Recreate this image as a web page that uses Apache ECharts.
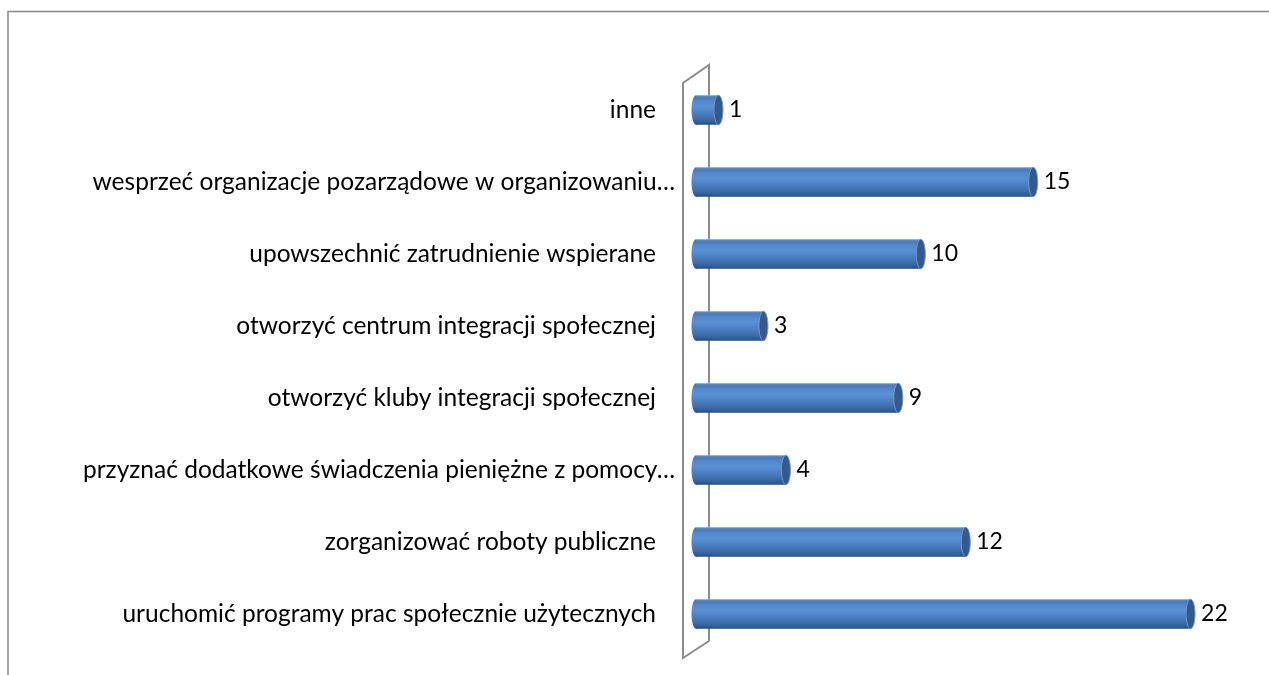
<!DOCTYPE html>
<html>
<head>
<meta charset="utf-8">
<title>chart</title>
<script src="https://cdn.jsdelivr.net/npm/echarts@6/dist/echarts.min.js"></script>
<style>
    html, body { margin: 0; padding: 0; background: #fff; }
    #main { width: 1269px; height: 675px; }
</style>
</head>
<body>
<div id="main"></div>
<script>
// categories from bottom to top (as in the picture)
var categories = [
    'uruchomić programy prac społecznie użytecznych',
    'zorganizować roboty publiczne',
    'przyznać dodatkowe świadczenia pieniężne z pomocy…',
    'otworzyć kluby integracji społecznej',
    'otworzyć centrum integracji społecznej',
    'upowszechnić zatrudnienie wspierane',
    'wesprzeć organizacje pozarządowe w organizowaniu…',
    'inne'
];
var values = [22, 12, 4, 9, 3, 10, 15, 1];

var FONT = 'Lato';
var FS = 24.5;
var GRID_LEFT = 696, GRID_TOP = 74, GRID_BOTTOM = 25;
var chart = echarts.init(document.getElementById('main'));

// cylinder bar: body + darker end cap
function renderBar(params, api) {
    var v = api.value(0);
    var c = api.value(1);
    var a = api.coord([0, c]);
    var b = api.coord([v, c]);
    var h = 29.5;
    var rx = 4.5;
    var y0 = a[1] - h / 2;
    var body = new echarts.graphic.LinearGradient(0, 0, 0, 1, [
        {offset: 0, color: '#3f70b0'},
        {offset: 0.08, color: '#4a7dc0'},
        {offset: 0.35, color: '#5b91d3'},
        {offset: 0.6, color: '#4d80c2'},
        {offset: 0.85, color: '#3a679f'},
        {offset: 1, color: '#2a4d7c'}
    ]);
    return {
        type: 'group',
        children: [
            {type: 'ellipse', shape: {cx: a[0], cy: a[1], rx: rx, ry: h / 2},
             style: {fill: body}},
            {type: 'rect', shape: {x: a[0], y: y0, width: b[0] - a[0], height: h},
             style: {fill: body}},
            {type: 'line', shape: {x1: a[0], y1: y0 + 0.5, x2: b[0], y2: y0 + 0.5},
             style: {stroke: 'rgba(170,195,230,0.8)', lineWidth: 1}},
            {type: 'ellipse', shape: {cx: b[0], cy: b[1], rx: rx, ry: h / 2},
             style: {fill: '#35598a', stroke: '#6f98cc', lineWidth: 1}},
            {type: 'text', x: b[0] + rx + 6, y: b[1],
             style: {text: String(v), fill: '#000', font: '23px "' + FONT + '"',
                     verticalAlign: 'middle', align: 'left'}}
        ]
    };
}

// 3D wall behind the category axis: a parallelogram around the zero line
var zero = GRID_LEFT;
var wTop = GRID_TOP, wBottom = 675 - GRID_BOTTOM;

chart.setOption({
    animation: false,
    grid: {left: GRID_LEFT, right: 11, top: GRID_TOP, bottom: GRID_BOTTOM, containLabel: false},
    xAxis: {
        type: 'value', min: 0, max: 25, show: false
    },
    yAxis: {
        type: 'category',
        data: categories,
        axisLine: {show: false},
        axisTick: {show: false},
        splitLine: {show: false},
        axisLabel: {
            margin: 21,
            formatter: function (val) {
                if (val.charAt(val.length - 1) === '…') return '{t|' + val + '}';
                return '{t|' + val + '}{g| }';
            },
            rich: {
                t: {fontFamily: FONT, fontSize: FS, color: '#000'},
                g: {width: 19, fontSize: FS}
            }
        }
    },
    graphic: [
        {type: 'polyline', z: 0, silent: true,
         shape: {points: [[8, 700], [8, 11.5], [1300, 11.5]]},
         style: {stroke: '#878787', lineWidth: 1.5}},
        {type: 'polyline', z: 1, silent: true,
         shape: {points: [[zero + 13, wBottom - 9], [zero + 13, wTop - 9],
                          [zero - 13, wTop + 9], [zero - 13, wBottom + 8],
                          [zero + 13, wBottom - 9]]},
         style: {stroke: '#8c8c8c', lineWidth: 2}}
    ],
    series: [{
        type: 'custom',
        renderItem: renderBar,
        encode: {x: 0, y: 1},
        data: values.map(function (v, i) { return [v, i]; }),
        z: 3
    }]
});
</script>
</body>
</html>
